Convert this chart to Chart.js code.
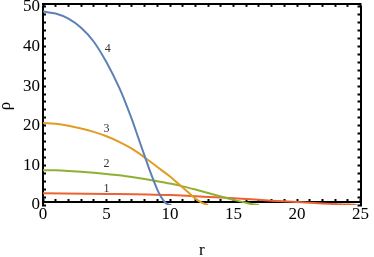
<!DOCTYPE html>
<html>
<head>
<meta charset="utf-8">
<script src="https://cdn.jsdelivr.net/npm/chart.js@4"></script>
<style>
  body { margin: 0; background: #fff; }
  #wrap { width: 374px; height: 257px; }
</style>
</head>
<body>
<div id="wrap"><canvas id="rhoChart"></canvas></div>
<script>
// density profiles rho(r)
const r1 = [0, 5, 10, 12, 14, 16, 18, 20, 22, 24, 24.7];
const rho1 = [2.95, 2.8, 2.5, 2.2, 1.9, 1.5, 1.1, 0.75, 0.4, 0.1, 0];

const r2 = [0, 1, 2, 3, 4, 5, 6, 7, 8, 9, 10, 11, 12, 13, 14, 15, 16, 16.5, 17];
const rho2 = [8.8, 8.75, 8.6, 8.4, 8.15, 7.85, 7.5, 7.05, 6.55, 6.0, 5.4, 4.7, 3.9, 3.05, 2.15, 1.3, 0.55, 0.2, 0];

const r3 = [0, 1, 2, 3, 4, 5, 6, 7, 8, 9, 10, 11, 11.5, 12, 12.5, 13];
const rho3 = [20.7, 20.5, 20.0, 19.3, 18.45, 17.35, 15.95, 14.2, 12.0, 9.6, 7.2, 4.4, 3.0, 1.6, 0.6, 0];

const r4 = [0, 1, 2, 3, 4, 5, 6, 6.5, 7, 7.5, 8, 8.5, 9, 9.3, 9.6, 9.85, 10.1];
const rho4 = [48.8, 48.3, 47.0, 44.7, 41.2, 36.0, 29.6, 25.8, 21.6, 17.0, 12.4, 7.9, 3.9, 2.0, 0.7, 0.15, 0];

const curveNames = ["1", "2", "3", "4"];
const labelAt = [[5, 4.2], [5, 10.3], [5, 19.2], [5.1, 39.4]];

// labelled ticks and the minor tick positions of the frame
const xTicks = [0, 5, 10, 15, 20, 25];
const yTicks = [0, 10, 20, 30, 40, 50];
const xMinor = [0, 1, 2, 3, 4, 5, 6, 7, 8, 9, 10, 11, 12, 13, 14, 15, 16, 17, 18, 19, 20, 21, 22, 23, 24, 25];
const yMinor = [0, 2, 4, 6, 8, 10, 12, 14, 16, 18, 20, 22, 24, 26, 28, 30, 32, 34, 36, 38, 40, 42, 44, 46, 48, 50];

const serif = "'Liberation Serif', 'Times New Roman', serif";

function pts(xs, ys) {
  return xs.map((x, i) => ({ x: x, y: ys[i] }));
}

function line(xs, ys, color) {
  return {
    data: pts(xs, ys),
    showLine: true,
    borderColor: color,
    backgroundColor: color,
    borderWidth: 2,
    pointRadius: 0,
    cubicInterpolationMode: "monotone",
  };
}

// inward tick marks (negative tick length), no grid lines inside
const frameGrid = {
  display: true,
  drawOnChartArea: false,
  drawTicks: true,
  tickLength: -3,
  tickWidth: 2,
  tickColor: "#000",
};
const frameBorder = { display: true, color: "#000", width: 2 };

// curve numbers
const labelPlugin = {
  id: "curveLabels",
  afterDraw(chart) {
    const c = chart.ctx;
    const xs = chart.scales.x;
    const ys = chart.scales.y;
    c.save();
    c.fillStyle = "#333";
    c.font = "12px " + serif;
    c.textAlign = "center";
    c.textBaseline = "middle";
    labelAt.forEach((p, i) => {
      c.fillText(curveNames[i], xs.getPixelForValue(p[0]), ys.getPixelForValue(p[1]));
    });
    c.restore();
  },
};

const ctx = document.getElementById("rhoChart").getContext("2d");

const rhoChart = new Chart(ctx, {
  type: "scatter",
  data: {
    datasets: [
      line(r4, rho4, "#5E81B5"),
      line(r3, rho3, "#E19C24"),
      line(r2, rho2, "#8FB032"),
      line(r1, rho1, "#EB6235"),
    ],
  },
  options: {
    responsive: true,
    maintainAspectRatio: false,
    animation: false,
    layout: { padding: { top: 6, right: 11, left: 0, bottom: 0 } },
    plugins: {
      legend: { display: false },
      tooltip: { enabled: false },
    },
    scales: {
      x: {
        type: "linear",
        min: 0,
        max: 25,
        afterBuildTicks: (s) => { s.ticks = xMinor.map((v) => ({ value: v })); },
        grid: frameGrid,
        border: frameBorder,
        ticks: {
          color: "#000",
          padding: 5,
          maxRotation: 0,
          autoSkip: false,
          font: { family: serif, size: 17 },
          callback: (v) => (xTicks.includes(v) ? v : ""),
        },
        title: {
          display: true,
          text: "r",
          color: "#000",
          padding: { top: 17.8, bottom: 0 },
          font: { family: serif, size: 17, lineHeight: 0.4 },
        },
      },
      y: {
        min: 0,
        max: 50,
        afterBuildTicks: (s) => { s.ticks = yMinor.map((v) => ({ value: v })); },
        grid: frameGrid,
        border: frameBorder,
        ticks: {
          color: "#000",
          padding: 6,
          autoSkip: false,
          font: { family: serif, size: 17, lineHeight: 0.1 },
          callback: (v) => (yTicks.includes(v) ? v : ""),
        },
        title: {
          display: true,
          text: "ρ",
          color: "#000",
          padding: { top: 0, bottom: 5.1 },
          font: { family: serif, size: 17, lineHeight: 0.7 },
        },
      },
      xTop: {
        type: "linear",
        position: "top",
        min: 0,
        max: 25,
        afterBuildTicks: (s) => { s.ticks = xMinor.map((v) => ({ value: v })); },
        grid: frameGrid,
        border: frameBorder,
        ticks: { display: false, autoSkip: false },
      },
      yRight: {
        position: "right",
        min: 0,
        max: 50,
        afterBuildTicks: (s) => { s.ticks = yMinor.map((v) => ({ value: v })); },
        grid: frameGrid,
        border: frameBorder,
        ticks: { display: false, autoSkip: false },
      },
    },
  },
  plugins: [labelPlugin],
});
</script>
</body>
</html>
